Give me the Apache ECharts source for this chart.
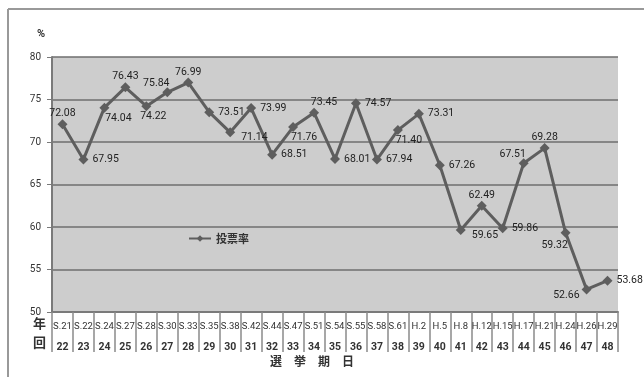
<!DOCTYPE html>
<html><head><meta charset="utf-8">
<script src="https://cdn.jsdelivr.net/npm/echarts@6/dist/echarts.min.js"></script>
<style>html,body{margin:0;padding:0;background:#fff}#c{width:644px;height:377px}</style>
</head><body><div id="c"></div>
<script>
const eraLabels = ['S.21','S.22','S.24','S.27','S.28','S.30','S.33','S.35','S.38','S.42','S.44','S.47','S.51','S.54','S.55','S.58','S.61','H.2','H.5','H.8','H.12','H.15','H.17','H.21','H.24','H.26','H.29'];
const sessions = ['22','23','24','25','26','27','28','29','30','31','32','33','34','35','36','37','38','39','40','41','42','43','44','45','46','47','48'];
const turnout = [72.08,67.95,74.04,76.43,74.22,75.84,76.99,73.51,71.14,73.99,68.51,71.76,73.45,68.01,74.57,67.94,71.40,73.31,67.26,59.65,62.49,59.86,67.51,69.28,59.32,52.66,53.68];
const yTicks = {min:50, max:80, interval:5};
const seriesName = '投票率';

// label placement per point (style only)
const placement = ['t','r','br','t','b','tl','t','r','rd','r','r','b2','tr','r','r','r','b2','r','r','rd','t','r','tl','t','bl','l','r'];
const placeMap = {
  t:{position:'top',offset:[0,2]},
  r:{position:'right',offset:[2,0]},
  br:{position:'bottom',offset:[14,-2]},
  b:{position:'bottom',offset:[7,-2]},
  b2:{position:'bottom',offset:[11,-2]},
  tl:{position:'top',offset:[-11,4]},
  tr:{position:'top',offset:[10,2]},
  rd:{position:'right',offset:[4,5]},
  bl:{position:'bottom',offset:[-11,0]},
  l:{position:'left',offset:[0,6]}
};

const chart = echarts.init(document.getElementById('c'));
const data = turnout.map((v,i)=>({value:v,label:Object.assign({},placeMap[placement[i]])}));
const font = 'Roboto, "Liberation Sans", sans-serif';
chart.setOption({
  animation:false,
  grid:{left:52,right:26,top:57,bottom:65,show:true,backgroundColor:'#cdcdcd',borderWidth:0},
  legend:{data:[seriesName],left:183,top:228,itemWidth:22,itemHeight:8,itemGap:4,
    textStyle:{fontSize:11,fontWeight:'bold',color:'#333',fontFamily:'"Noto Sans CJK JP", sans-serif'}},
  xAxis:{type:'category',data:eraLabels,boundaryGap:true,
    axisLine:{show:true,lineStyle:{color:'#7a7a7a',width:2}},
    axisTick:{show:true,interval:0,length:40,lineStyle:{color:'#8a8a8a',width:1.5}},
    axisLabel:{interval:0,margin:5,fontFamily:font,
      formatter:(v,i)=>'{a|'+v+'}\n{b|'+sessions[i]+'}',
      rich:{a:{fontSize:9.5,color:'#333',lineHeight:20,fontFamily:font},b:{fontSize:10.5,fontWeight:'bold',color:'#333',lineHeight:20,fontFamily:font}}}
  },
  yAxis:{type:'value',min:yTicks.min,max:yTicks.max,interval:yTicks.interval,
    axisLine:{show:true,lineStyle:{color:'#7a7a7a',width:2}},
    axisTick:{show:true,length:5,lineStyle:{color:'#7a7a7a'}},
    axisLabel:{fontSize:10,color:'#333',margin:11,fontFamily:font},
    splitLine:{show:true,lineStyle:{color:'#6e6e6e',width:1.5}}
  },
  series:[{name:seriesName,type:'line',data:data,symbol:'diamond',symbolSize:10,
    lineStyle:{color:'#5e5e5e',width:3},itemStyle:{color:'#5e5e5e'},
    label:{show:true,fontSize:10.5,color:'#222',distance:2,fontFamily:font,formatter:p=>p.value.toFixed(2)}
  }],
  graphic:[
    {type:'line',shape:{x1:8,y1:9,x2:644,y2:9},style:{stroke:'#999',lineWidth:2}},
    {type:'line',shape:{x1:8,y1:9,x2:8,y2:377},style:{stroke:'#999',lineWidth:2}},
    {type:'text',left:37,top:29,style:{text:'%',fill:'#333',font:'bold 11px Roboto'}},
    {type:'text',left:33,top:317,style:{text:'年',fill:'#333',font:'bold 13px "Noto Sans CJK JP"'}},
    {type:'text',left:33,top:336,style:{text:'回',fill:'#333',font:'bold 13px "Noto Sans CJK JP"'}},
    {type:'text',left:270,top:355,style:{text:'選　挙　期　日',fill:'#333',font:'bold 12px "Noto Sans CJK JP"'}}
  ]
});
</script></body></html>
